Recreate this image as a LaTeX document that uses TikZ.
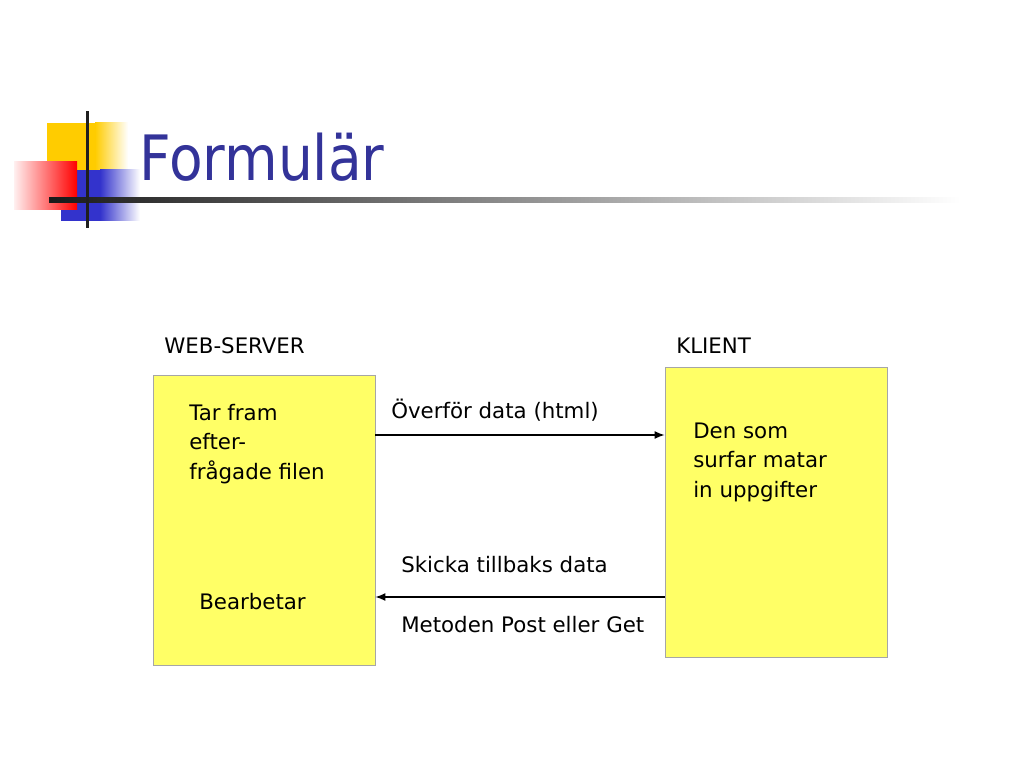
\documentclass[tikz,border=0pt]{standalone}
\usepackage{fontspec}
\setsansfont{DejaVu Sans}
\newfontfamily\titlefont[FakeStretch=0.88]{DejaVu Sans}
\usepackage{tikz}
\usetikzlibrary{arrows.meta,positioning}
\definecolor{boxyellow}{HTML}{FFFF66}
\definecolor{titleblue}{HTML}{333399}
\definecolor{decoyellow}{HTML}{FFCC00}
\definecolor{decoblue}{HTML}{3333CC}
\definecolor{decored}{HTML}{FF0000}
\tikzstyle{every picture}+=[font=\sffamily]

\begin{document}
\begin{tikzpicture}
			[x=0.703125pt, y=-0.703125pt, font=\sffamily\fontsize{15}{20.4}\selectfont, inner sep=0pt,
			box/.style		= {draw=black!35, line width=0.5pt, fill=boxyellow, minimum width=156.1pt, minimum height=203.9pt},
			label/.style	= {anchor=base west, align=left},
			pil/.style		= {draw, line width=0.9pt, -{Latex[length=7pt, width=5.5pt]}}]
			
			\useasboundingbox (0,0) rectangle (1024,768);
			
			\fill [decoyellow]									(47,123)	rectangle (95,170);
			\shade [left color=decoyellow, right color=white]	(95,123)	rectangle (128,170);
			\fill [decoblue]									(61,170)	rectangle (100,221);
			\shade [left color=decoblue, right color=white]		(100,170)	rectangle (140,221);
			\shade [left color=decored!6, right color=decored]	(14,162)	rectangle (77,210);
			\shade [left color=black!90, right color=white]		(49,197.5)	rectangle (960,202.5);
			\fill [black!88]									(85.5,111)	rectangle (88.5,228);
			
			\node [anchor=base west, titleblue, font=\titlefont\fontsize{44}{44}\selectfont]	at (139,181)	(title)	{Formulär};
			
			\node [box]		at (264,520)	(server)	{};
			\node [box]		at (776,512)	(client)	{};
			
			\node [label]	at (164,353)	(servername)	{WEB-SERVER};
			\node [label]	at (676,353)	(clientname)	{KLIENT};
			\node [label]	at (189,479)	(fetch)			{Tar fram\\efter-\\frågade filen};
			\node [label]	at (199,609)	(process)		{Bearbetar};
			\node [label]	at (693,497)	(surfer)		{Den som\\surfar matar\\in uppgifter};
			
			\coordinate (sendlevel)		at (0,435);
			\coordinate (returnlevel)	at (0,597);
			\draw [pil]	(server.east |- sendlevel)		-- (client.west |- sendlevel);
			\draw [pil]	(client.west |- returnlevel)	-- (server.east |- returnlevel);
			
			\node [label]	at (391,418)	(send)		{Överför data (html)};
			\node [label]	at (401,572)	(reply)		{Skicka tillbaks data};
			\node [label]	at (401,632)	(method)	{Metoden Post eller Get};
			\end{tikzpicture}
\end{document}
